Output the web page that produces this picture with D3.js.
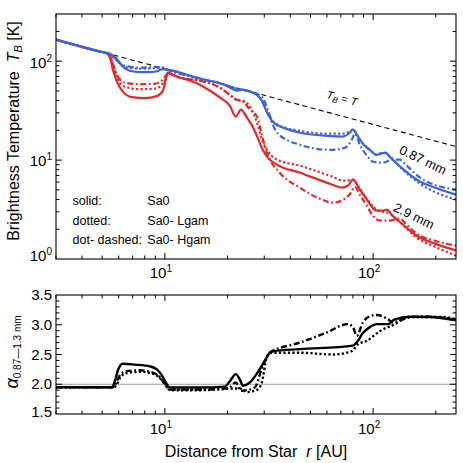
<!DOCTYPE html>
<html lang="en">
<head>
  <meta charset="UTF-8">
  <title>Brightness temperature and spectral index</title>
  <style>
    body { margin: 0; background: #fff; }
    svg { font-family: "Liberation Sans", Arial, sans-serif; }
  </style>
</head>
<body>
<svg id="chart" width="463" height="463"></svg>
<script src="https://cdn.jsdelivr.net/npm/d3@7/dist/d3.min.js"></script>
<script>
// [r (AU), T_B (K)]
var tbEqualsT = [[3.0,165],[250,13.7]];

var blueSolid = [[3.0,165],[4.88,125],[5.45,118],[5.82,108],[6.22,90],[6.79,80],[7.58,77.4],[8.47,77.4],[9.15,79.2],[9.78,83],[10.3,82],[14.7,66.5],[19.4,57.5],[21.0,52.7],[22.2,50.3],[23.7,51.5],[25.6,49.3],[27.7,45.3],[29.2,39.9],[30.5,32.4],[31.9,26.8],[33.7,23.4],[36.8,21.3],[44.5,18.9],[61.9,17.5],[71.5,17.3],[77.3,18.9],[80.0,20.3],[83.5,18.1],[89.3,14.6],[96.4,12.7],[104,11.3],[110,11.7],[115,11.9],[120,10.8],[134,8.68],[168,6.05],[187,5.51],[250,4.47]];
var blueDotted = [[3.0,165],[4.88,125],[5.45,118],[5.95,98.9],[6.42,87.9],[7.58,83.9],[8.96,84.9],[9.78,86],[10.3,82],[14.7,66.8],[19.4,57.8],[22.2,52.5],[25.6,49.4],[27.7,45.8],[29.5,38.9],[30.9,30.8],[32.6,25.6],[35.6,22.3],[44.5,19.8],[61.9,18.5],[73.1,18.5],[80.0,20.3],[86.3,16.1],[96.4,12.7],[104,11.3],[111,11.9],[116,11.6],[134,8.58],[168,5.77],[250,3.98]];
var blueDotDash = [[3.0,165],[4.88,125],[5.45,118],[5.88,101],[6.42,90.1],[7.58,86],[8.96,86.9],[9.78,86],[10.3,82],[14.7,66.8],[19.4,57.8],[22.2,52.5],[25.6,49.4],[29.2,43.8],[31.2,32.4],[33.0,22.8],[34.9,18.5],[44.5,14.3],[61.9,12.7],[73.1,13.3],[79.0,16.1],[81.7,18.5],[86.3,14.3],[93.3,11.1],[99.6,9.63],[111,9.41],[124,10.1],[134,10.1],[145,8.78],[168,6.64],[250,5.02]];

var redSolid = [[3.0,165],[4.88,125],[5.21,121],[5.45,108],[5.63,82.1],[5.88,62.1],[6.28,49.2],[6.94,43.3],[8.01,42.3],[9.15,44.3],[9.78,50.3],[10.1,65],[10.3,76.6],[11.2,71.3],[14.7,57.8],[18.4,42.8],[20.5,35.5],[21.9,27.5],[23.2,32.4],[24.8,26.8],[26.4,21.8],[27.9,16.8],[29.5,12.7],[31.2,10.6],[34.5,9.0],[44.5,7.46],[61.9,5.77],[70.8,5.26],[75.6,5.51],[80.0,6.34],[86.3,5.02],[93.3,3.98],[104,3.08],[111,3.08],[116,3.15],[124,2.74],[134,2.38],[162,1.72],[198,1.43],[250,1.22]];
var redDotted = [[3.0,165],[4.88,125],[5.21,121],[5.45,114],[5.69,86],[5.95,65],[6.42,55.2],[7.58,52.1],[8.96,52.7],[9.57,56.5],[10.0,65],[10.3,74.8],[11.8,68.1],[14.7,63.5],[18.4,53.9],[21.0,43.8],[22.4,39.9],[23.4,39.9],[25.6,34.7],[27.9,22.8],[29.5,15.3],[30.9,12.7],[34.5,10.1],[44.5,8.78],[61.9,6.95],[73.1,6.19],[80.0,6.34],[86.3,5.14],[93.3,4.07],[104,3.15],[111,3.01],[120,2.87],[134,2.38],[162,1.64],[198,1.33],[250,1.08]];
var redDotDash = [[3.0,165],[4.88,125],[5.21,121],[5.45,114],[5.69,87.9],[5.95,69.7],[6.42,60.6],[7.58,58.5],[8.96,59.2],[9.67,63.5],[10.1,71.3],[10.3,74.8],[11.8,68.1],[14.7,63.5],[18.4,53.9],[21.0,43.8],[22.2,40.8],[23.4,39.9],[25.6,32.4],[27.7,27.5],[29.2,18.1],[30.9,11.9],[35.6,7.46],[44.5,5.26],[55.4,4.07],[64.1,3.71],[73.1,4.07],[78.2,4.68],[81.7,5.38],[86.3,4.47],[93.3,3.46],[99.6,2.74],[108,2.44],[120,2.44],[134,2.56],[145,2.22],[162,1.80],[198,1.53],[250,1.36]];

// [r (AU), alpha]
var alphaSolid = [[3.0,1.95],[5.57,1.95],[5.75,2.05],[5.95,2.235],[6.28,2.345],[7.18,2.33],[8.47,2.30],[9.15,2.25],[9.67,2.15],[10.1,2.03],[10.6,1.945],[14.7,1.945],[19.4,1.96],[20.5,2.05],[21.9,2.17],[22.9,2.08],[23.7,1.975],[25.6,2.03],[27.9,2.20],[30.2,2.395],[31.9,2.53],[33.0,2.555],[44.5,2.59],[80.0,2.65],[83.5,2.705],[89.3,2.86],[96.4,2.96],[104,3.01],[118,3.01],[127,3.09],[150,3.135],[187,3.13],[250,3.075]];
var alphaDotted = [[3.0,1.95],[5.69,1.95],[5.88,2.0],[6.15,2.13],[6.57,2.19],[7.58,2.21],[8.47,2.19],[9.26,2.135],[9.89,2.02],[10.6,1.90],[14.7,1.90],[22.9,1.93],[24.8,1.87],[27.7,1.905],[29.2,2.03],[30.9,2.455],[32.6,2.53],[44.5,2.53],[64.1,2.50],[79.0,2.555],[84.5,2.67],[93.3,2.73],[108,2.895],[127,3.01],[145,3.12],[162,3.13],[216,3.13],[250,3.09]];
var alphaDotDash = [[3.0,1.95],[5.63,1.95],[5.82,2.02],[6.08,2.15],[6.50,2.22],[7.58,2.235],[8.47,2.21],[9.26,2.15],[9.89,2.03],[10.6,1.91],[14.7,1.91],[20.1,1.93],[21.9,2.03],[23.2,1.89],[27.0,1.945],[29.5,2.31],[31.9,2.53],[44.5,2.70],[59.9,2.87],[75.6,3.01],[80.0,2.96],[83.5,2.815],[89.3,3.04],[96.4,3.14],[104,3.165],[118,3.09],[124,3.04],[136,3.075],[150,3.135],[187,3.135],[250,3.085]];

var xMajor = [10, 100];
var xMinor = [3,4,5,6,7,8,9,20,30,40,50,60,70,80,90,200];
var tMajor = [10, 100];
var tMinor = [2,3,4,5,6,7,8,9,20,30,40,50,60,70,80,90,200];
var aMajor = [2.0, 2.5, 3.0];
var aMinor = [1.6,1.7,1.8,1.9,2.1,2.2,2.3,2.4,2.6,2.7,2.8,2.9,3.1,3.2,3.3,3.4];
var aLabels = ["1.5","2.0","2.5","3.0","3.5"];

var blue = "#3e63d3", red = "#e2282b";
var dotted = "2.2,2.3", dotDash = "6,2.6,1.8,2.6";

var svg = d3.select("#chart");
var left = 56, right = 456;
var x = d3.scaleLog().domain([3, 250]).range([left, right]);
var yT = d3.scaleLog().domain([1, 300]).range([259, 14]);
var yA = d3.scaleLinear().domain([1.5, 3.5]).range([414, 295]);

function frameTicks(scaleY, top, bottom, yMaj, yMin) {
  var g = svg.append("g").attr("stroke", "#000").attr("stroke-width", 1);
  function hTick(v, len) {
    g.append("line").attr("x1", x(v)).attr("x2", x(v)).attr("y1", bottom).attr("y2", bottom - len);
    g.append("line").attr("x1", x(v)).attr("x2", x(v)).attr("y1", top).attr("y2", top + len);
  }
  function vTick(v, len) {
    g.append("line").attr("y1", scaleY(v)).attr("y2", scaleY(v)).attr("x1", left).attr("x2", left + len);
    g.append("line").attr("y1", scaleY(v)).attr("y2", scaleY(v)).attr("x1", right).attr("x2", right - len);
  }
  xMajor.forEach(function (v) { hTick(v, 6); });
  xMinor.forEach(function (v) { hTick(v, 3.5); });
  yMaj.forEach(function (v) { vTick(v, 6); });
  yMin.forEach(function (v) { vTick(v, 3.5); });
  svg.append("rect").attr("x", left).attr("y", top).attr("width", right - left).attr("height", bottom - top)
    .attr("fill", "none").attr("stroke", "#000").attr("stroke-width", 1.1);
}

function powLabel(px, py, exp, anchor) {
  var t = svg.append("text").attr("x", px).attr("y", py).attr("text-anchor", anchor).attr("font-size", 15);
  t.append("tspan").text("10");
  t.append("tspan").attr("dy", -6).attr("font-size", 10).text(exp);
}

// clip regions
var defs = svg.append("defs");
defs.append("clipPath").attr("id", "clipTop").append("rect").attr("x", left).attr("y", 14).attr("width", right - left).attr("height", 245);
defs.append("clipPath").attr("id", "clipBot").append("rect").attr("x", left).attr("y", 295).attr("width", right - left).attr("height", 119);

// ---- top panel
var lineT = d3.line().x(function (d) { return x(d[0]); }).y(function (d) { return yT(d[1]); }).curve(d3.curveMonotoneX);
var gTop = svg.append("g").attr("clip-path", "url(#clipTop)").attr("fill", "none");

gTop.append("path").attr("d", lineT(tbEqualsT)).attr("stroke", "#000").attr("stroke-width", 1.1).attr("stroke-dasharray", "5,3.5");

[[redDotDash, red, dotDash], [redDotted, red, dotted], [redSolid, red, null],
 [blueDotDash, blue, dotDash], [blueDotted, blue, dotted], [blueSolid, blue, null]].forEach(function (s) {
  gTop.append("path").attr("d", lineT(s[0])).attr("stroke", s[1]).attr("stroke-width", 2.2)
    .attr("stroke-dasharray", s[2]).attr("stroke-linejoin", "round");
});

frameTicks(yT, 14, 259, tMajor, tMinor);

powLabel(52, 67.5, "2", "end");
powLabel(52, 166, "1", "end");
powLabel(52, 261, "0", "end");
powLabel(x(10) - 4, 278, "1", "middle");
powLabel(x(100) - 4, 278, "2", "middle");

var yl = svg.append("text").attr("transform", "translate(19,131) rotate(-90)").attr("text-anchor", "middle").attr("font-size", 16);
yl.append("tspan").text("Brightness Temperature\u00a0\u00a0");
yl.append("tspan").attr("font-style", "italic").text("T");
yl.append("tspan").attr("font-size", 11).attr("dy", 3).attr("font-style", "italic").text("B");
yl.append("tspan").attr("dy", -3).text(" [K]");

var tb = svg.append("text").attr("transform", "translate(341,102) rotate(15)").attr("text-anchor", "middle").attr("font-size", 11);
tb.append("tspan").attr("font-style", "italic").text("T");
tb.append("tspan").attr("font-size", 8).attr("dy", 2.5).attr("font-style", "italic").text("B");
tb.append("tspan").attr("dy", -2.5).text(" = ");
tb.append("tspan").attr("font-style", "italic").text("T");

svg.append("text").attr("transform", "translate(421,164) rotate(26)").attr("text-anchor", "middle").attr("font-size", 13).text("0.87 mm");
svg.append("text").attr("transform", "translate(412,220) rotate(26)").attr("text-anchor", "middle").attr("font-size", 13).text("2.9 mm");

var legend = [["solid:", "Sa0", 205], ["dotted:", "Sa0- Lgam", 224.5], ["dot- dashed:", "Sa0- Hgam", 244]];
legend.forEach(function (l) {
  svg.append("text").attr("x", 72.5).attr("y", l[2]).attr("font-size", 12.5).text(l[0]);
  svg.append("text").attr("x", 147.3).attr("y", l[2]).attr("font-size", 12.5).text(l[1]);
});

// ---- bottom panel
var lineA = d3.line().x(function (d) { return x(d[0]); }).y(function (d) { return yA(d[1]); }).curve(d3.curveMonotoneX);
var gBot = svg.append("g").attr("clip-path", "url(#clipBot)").attr("fill", "none");
gBot.append("line").attr("x1", left).attr("x2", right).attr("y1", yA(2)).attr("y2", yA(2)).attr("stroke", "#9a9a9a").attr("stroke-width", 1.2);
[[alphaDotted, dotted], [alphaDotDash, dotDash], [alphaSolid, null]].forEach(function (s) {
  gBot.append("path").attr("d", lineA(s[0])).attr("stroke", "#000").attr("stroke-width", 2.4)
    .attr("stroke-dasharray", s[1]).attr("stroke-linejoin", "round");
});

frameTicks(yA, 295, 414, aMajor, aMinor);

aLabels.forEach(function (lab) {
  var v = +lab, py = yA(v) + 5;
  if (v === 3.5) py = 300;
  if (v === 1.5) py = 416.5;
  svg.append("text").attr("x", 52).attr("y", py).attr("text-anchor", "end").attr("font-size", 15).text(lab);
});
powLabel(x(10) - 4, 434, "1", "middle");
powLabel(x(100) - 4, 434, "2", "middle");

var al = svg.append("text").attr("transform", "translate(18,352) rotate(-90)").attr("text-anchor", "middle");
al.append("tspan").attr("font-size", 18).attr("font-style", "italic").text("\u03b1");
al.append("tspan").attr("font-size", 10).attr("dy", 3).text("0.87\u20141.3\u00a0mm");

var xl = svg.append("text").attr("x", 256).attr("y", 457).attr("text-anchor", "middle").attr("font-size", 16);
xl.append("tspan").text("Distance from Star\u00a0\u00a0");
xl.append("tspan").attr("font-style", "italic").text("r");
xl.append("tspan").text(" [AU]");
</script>
</body>
</html>
